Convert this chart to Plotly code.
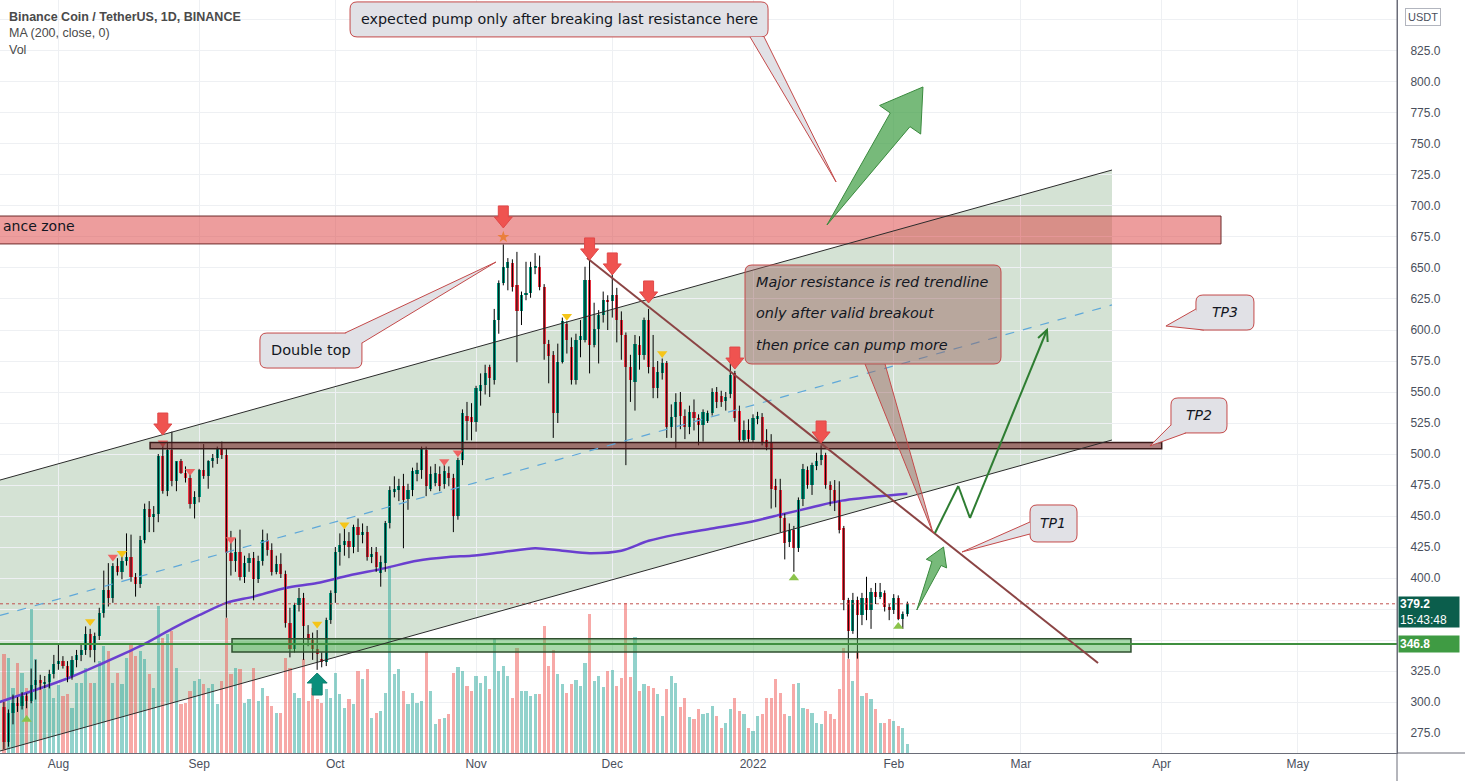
import math
import pandas as pd
import plotly.graph_objects as go

# ------------------------------------------------------------------ data
DATES = pd.date_range("2021-07-20", periods=200, freq="D")

OPEN = [296,268,291,299,297,305,301,314,318,315,
        316,323,331,333,329,320,334,338,342,355,
        342,353,372,390,384,410,405,414,417,401,
        395,431,456,449,452,498,470,503,478,494,
        485,481,460,465,487,482,494,497,505,499,
        420,414,421,401,412,416,399,414,431,423,
        405,411,403,364,343,378,384,355,350,343,
        335,332,366,388,421,427,430,425,441,435,
        437,417,421,404,412,444,469,471,474,464,
        471,484,487,503,472,477,484,476,485,481,
        450,495,531,530,526,551,556,570,560,608,
        638,650,654,636,615,628,630,650,651,635,
        589,580,533,574,605,586,560,592,592,640,
        588,601,612,624,623,628,608,596,570,558,
        588,580,608,570,553,565,573,522,530,542,
        531,522,534,529,523,527,533,550,547,543,
        548,565,535,511,519,511,528,530,511,509,
        474,471,448,429,439,424,464,487,475,490,
        495,499,475,471,462,440,382,357,382,370,
        384,374,389,385,388,377,374,384,367,371]

HIGH = [300,294,306,304,308,307,327,334,322,321,
        326,338,346,337,333,337,342,347,361,359,
        356,376,406,412,412,416,420,436,435,404,
        434,460,462,458,500,507,510,518,494,496,
        490,487,470,488,508,495,500,506,510,504,
        438,432,439,418,420,421,418,439,436,428,
        418,420,406,376,380,392,388,362,356,358,
        340,368,390,425,436,440,437,443,448,444,
        442,425,425,418,446,474,482,480,484,476,
        489,493,506,506,490,492,490,492,490,484,
        497,536,542,541,555,565,572,572,617,640,
        669,658,657,663,631,655,655,662,660,637,
        592,583,589,610,607,594,597,608,651,658,
        622,616,631,628,651,634,615,598,580,596,
        595,610,617,596,575,577,575,540,549,550,
        536,539,544,532,536,535,553,554,551,550,
        573,567,539,527,528,532,534,533,520,516,
        480,480,452,444,442,465,492,490,493,501,
        507,501,478,479,478,442,384,388,385,388,
        401,392,396,396,390,379,387,386,373,381]

LOW = [262,264,282,292,294,295,299,302,310,311,
       311,319,326,327,316,318,328,333,338,336,
       332,350,368,377,380,402,399,410,397,385,
       392,428,437,437,445,468,466,474,470,484,
       477,456,448,461,480,472,489,492,496,368,
       402,405,398,396,405,382,396,410,418,402,
       403,400,360,336,340,373,334,345,334,326,
       328,329,363,380,410,418,416,420,421,428,
       414,412,405,393,405,440,465,462,424,455,
       466,478,480,466,470,474,470,472,474,437,
       447,491,511,511,518,539,548,546,556,597,
       636,632,631,574,604,624,626,645,632,576,
       557,513,525,573,581,556,556,578,590,565,
       586,573,606,600,610,590,576,491,542,535,
       568,576,565,545,545,560,513,513,505,520,
       512,516,519,507,510,525,531,537,538,535,
       545,526,509,510,509,509,524,507,503,456,
       457,437,415,425,405,421,458,472,467,487,
       491,472,458,454,436,374,335,355,335,362,
       366,359,379,383,373,366,371,366,359,369]

CLOSE = [268,291,299,297,305,301,314,318,315,316,
         323,331,333,329,320,334,338,342,355,342,
         353,372,390,384,410,405,414,417,401,395,
         431,456,449,452,498,470,503,478,494,485,
         481,460,465,487,482,494,497,505,499,420,
         414,421,401,412,416,399,414,431,423,405,
         411,403,364,343,378,384,361,350,343,339,
         332,366,388,421,427,430,425,441,435,437,
         417,419,409,413,444,471,472,474,463,471,
         486,487,504,474,484,485,474,486,481,450,
         495,533,527,526,553,556,565,561,608,638,
         651,655,635,615,628,630,651,652,635,589,
         579,533,574,607,592,560,592,595,640,588,
         601,612,624,623,628,608,596,570,560,589,
         580,608,570,553,566,573,522,530,542,531,
         522,534,529,523,534,533,550,542,542,546,
         564,529,511,519,512,529,531,509,506,472,
         471,448,428,439,424,463,488,475,491,494,
         499,475,471,462,439,382,357,382,370,384,
         374,389,385,389,377,374,384,367,371,379.2]

# volume in thousands of BNB
VOLUME_K = [990,950,650,900,800,650,1440,940,720,640,
            750,550,680,570,590,450,700,700,850,700,
            700,920,1070,1020,700,800,690,950,1100,970,
            1020,940,790,650,1470,1150,1190,1220,850,490,
            500,620,720,740,690,650,690,490,720,1350,
            790,850,840,500,540,850,520,650,570,470,
            400,400,950,850,600,550,940,520,650,540,
            500,640,550,800,590,450,540,490,820,740,
            840,350,400,420,600,1870,790,840,620,490,
            600,500,520,1020,620,290,340,350,390,800,
            860,820,670,620,770,700,770,640,1150,820,
            870,770,550,1050,620,620,570,590,590,1270,
            870,1030,790,690,600,690,730,670,900,1390,
            720,770,660,820,830,670,750,1500,760,1160,
            620,690,670,650,590,370,640,770,700,460,
            550,360,340,440,390,400,470,370,250,300,
            440,550,420,390,250,220,370,390,550,550,
            740,600,390,370,690,700,450,440,400,300,
            290,420,390,340,640,1050,940,720,1020,570,
            600,540,440,300,300,340,320,270,250,90]

MA_DATES = ["2021-07-19", "2021-08-03", "2021-08-10", "2021-08-19", "2021-08-26",
            "2021-09-01", "2021-09-07", "2021-09-13", "2021-09-20", "2021-09-27",
            "2021-10-04", "2021-10-12", "2021-10-19", "2021-10-26", "2021-10-31",
            "2021-11-07", "2021-11-14", "2021-11-20", "2021-11-26", "2021-12-03",
            "2021-12-09", "2021-12-15", "2021-12-23", "2021-12-31", "2022-01-07",
            "2022-01-14", "2022-01-20", "2022-01-29", "2022-02-04"]
MA_VALUES = [300, 319, 330, 345, 359, 370, 380, 385, 392, 396,
             402, 408, 414, 417, 418, 421, 424, 422, 420, 422,
             430, 435, 440, 445, 451, 457, 462, 466, 468]

RED_TRI_DATES = ["2021-08-13", "2021-08-24", "2021-08-30", "2021-09-08", "2021-10-25", "2021-10-28"]
RED_TRI_PRICES = [417, 509, 486, 431, 494, 501]
YEL_TRI_DATES = ["2021-08-08", "2021-08-15", "2021-09-27", "2021-10-03", "2021-11-21", "2021-12-12"]
YEL_TRI_PRICES = [365, 420, 363, 443, 611, 581]
GRN_TRI_DATES = ["2021-07-25", "2022-01-10", "2022-02-02"]
GRN_TRI_PRICES = [286, 400, 361]
STAR_DATES = ["2021-11-07"]
STAR_PRICES = [675]

MONTH_TICKS = ["2021-08-01", "2021-09-01", "2021-10-01", "2021-11-01", "2021-12-01",
               "2022-01-01", "2022-02-01", "2022-03-01", "2022-04-01", "2022-05-01"]
MONTH_LABELS = ["Aug", "Sep", "Oct", "Nov", "Dec", "2022", "Feb", "Mar", "Apr", "May"]
PRICE_TICKS = [275 + 25 * k for k in range(24)]
HIDDEN_PRICE_LABELS = [350, 375, 850]   # covered by price badges in the reference

LAST_PRICE = 379.2
SUPPORT_PRICE = 346.8

# ------------------------------------------------------------------ layout constants
FIG_W, FIG_H = 1465, 781
M_L, M_R, M_T, M_B = 0, 68, 0, 28
PLOT_W = FIG_W - M_L - M_R
PLOT_H = FIG_H - M_T - M_B
X_START = pd.Timestamp("2021-07-19 03:20")
X_END = pd.Timestamp("2022-05-22 20:24")
Y_MIN, Y_MAX = 258.9, 866.1
VOL_AXIS_MAX = 7530

UP = "#089981"
DOWN = "#f23645"
VOL_UP = "rgba(38,166,154,0.5)"
VOL_DOWN = "rgba(239,83,80,0.5)"
GRID = "#eef0f3"
TXT = "#131722"
AXIS_TXT = "#4a4f5c"
CALLOUT_FILL = "#e1e1e6"
CALLOUT_LINE = "#c44a4a"


def to_px(date, price):
    t = pd.Timestamp(date)
    x = (t - X_START).total_seconds() / (X_END - X_START).total_seconds() * PLOT_W
    y = (Y_MAX - price) / (Y_MAX - Y_MIN) * PLOT_H
    return x, y


def dpath(t):
    return pd.Timestamp(t).strftime("%Y-%m-%d_%H:%M:%S")


def P(x, y):
    return f"{x:.1f},{-y:.1f}"


def rrect_path(x0, y0, x1, y1, r=7):
    return (f"M{P(x0 + r, y0)} L{P(x1 - r, y0)} Q{P(x1, y0)} {P(x1, y0 + r)} "
            f"L{P(x1, y1 - r)} Q{P(x1, y1)} {P(x1 - r, y1)} L{P(x0 + r, y1)} "
            f"Q{P(x0, y1)} {P(x0, y1 - r)} L{P(x0, y0 + r)} Q{P(x0, y0)} {P(x0 + r, y0)} Z")


def pix_shape(date, price, path, fill, line_color, line_width=1):
    return dict(type="path", xref="x", yref="y2", xsizemode="pixel", ysizemode="pixel",
                xanchor=str(date), yanchor=price, path=path, fillcolor=fill,
                line=dict(color=line_color, width=line_width), layer="above")


shapes = []
annotations = []

# ---- parallel channel (fill below series)
CH_T0, CH_T1 = "2021-07-19 03:20", "2022-03-21 01:40"
CH_UP = (479.0, 729.0)
CH_LO = (260.5, 511.3)
CH_MID = (369.8, 620.2)
shapes.append(dict(type="path", xref="x", yref="y2", layer="below",
                   path=f"M{dpath(CH_T0)},{CH_LO[0]} L{dpath(CH_T1)},{CH_LO[1]} "
                        f"L{dpath(CH_T1)},{CH_UP[1]} L{dpath(CH_T0)},{CH_UP[0]} Z",
                   fillcolor="rgba(100,150,100,0.28)", line=dict(width=0)))

# ---- red resistance zone
shapes.append(dict(type="rect", xref="x", yref="y2", x0="2021-07-01", x1="2022-04-14 02:00",
                   y0=669.4, y1=691.9, fillcolor="rgba(220,60,60,0.5)",
                   line=dict(color="#6d2b2b", width=1), layer="above"))
# ---- brown horizontal resistance box
shapes.append(dict(type="rect", xref="x", yref="y2", x0="2021-08-21 04:50", x1="2022-04-01 00:30",
                   y0=504.3, y1=509.3, fillcolor="rgba(120,40,40,0.6)",
                   line=dict(color="#3a1a1a", width=1.5), layer="above"))
# ---- green support box
shapes.append(dict(type="rect", xref="x", yref="y2", x0="2021-09-08 05:45", x1="2022-03-25 06:00",
                   y0=340.3, y1=351.0, fillcolor="rgba(76,175,80,0.48)",
                   line=dict(color="#2f4f2f", width=1.5), layer="above"))
# ---- horizontal support line
shapes.append(dict(type="line", xref="paper", yref="y2", x0=0, x1=1, y0=SUPPORT_PRICE, y1=SUPPORT_PRICE,
                   line=dict(color="#3f8f3f", width=2), layer="above"))
# ---- last price dotted line
shapes.append(dict(type="line", xref="paper", yref="y2", x0=0, x1=1, y0=LAST_PRICE, y1=LAST_PRICE,
                   line=dict(color="#c0504d", width=1, dash="dot"), layer="above"))
# ---- channel borders
shapes.append(dict(type="line", xref="x", yref="y2", x0=CH_T0, x1=CH_T1, y0=CH_UP[0], y1=CH_UP[1],
                   line=dict(color="#2b2b2b", width=1), layer="above"))
shapes.append(dict(type="line", xref="x", yref="y2", x0=CH_T0, x1=CH_T1, y0=CH_LO[0], y1=CH_LO[1],
                   line=dict(color="#2b2b2b", width=1), layer="above"))
shapes.append(dict(type="line", xref="x", yref="y2", x0=CH_T0, x1=CH_T1, y0=CH_MID[0], y1=CH_MID[1],
                   line=dict(color="#5fa8d9", width=1.2, dash="dash"), layer="above"))
# ---- descending trendline
shapes.append(dict(type="line", xref="x", yref="y2", x0="2021-11-25 10:30", x1="2022-03-18 00:00",
                   y0=658.1, y1=331.5, line=dict(color="#8b4444", width=2), layer="above"))

# ---- red down arrow marks (tip anchored)
RED_ARROW_MARKS = [("2021-08-24", 515.3), ("2021-11-07", 682.3), ("2021-11-26", 656.5),
                   ("2021-12-01", 644.4), ("2021-12-09", 621.8), ("2021-12-28", 568.5),
                   ("2022-01-16", 508.9)]
down_arrow = (f"M{P(-5, -22)} L{P(5, -22)} L{P(5, -11)} L{P(9, -11)} L{P(0, 0)} "
              f"L{P(-9, -11)} L{P(-5, -11)} Z")
for d, p in RED_ARROW_MARKS:
    shapes.append(pix_shape(d, p, down_arrow, "#ef5350", "#e04848", 1))

# ---- teal up arrow mark
up_arrow = (f"M{P(0, 0)} L{P(10, 10)} L{P(5, 10)} L{P(5, 22)} L{P(-5, 22)} "
            f"L{P(-5, 10)} L{P(-10, 10)} Z")
shapes.append(pix_shape("2021-09-27", 323.4, up_arrow, "#0a8f7c", "#0a7f6e", 1))


# ---- big / small green arrows
def arrow_path(dx, dy, head_len, head_half, shaft_half):
    L = math.hypot(dx, dy)
    ux, uy = dx / L, dy / L
    nx, ny = -uy, ux
    bx, by = ux * (L - head_len), uy * (L - head_len)
    pts = [(0, 0), (bx + nx * shaft_half, by + ny * shaft_half), (bx + nx * head_half, by + ny * head_half),
           (dx, dy), (bx - nx * head_half, by - ny * head_half), (bx - nx * shaft_half, by - ny * shaft_half)]
    return "M" + " L".join(P(x, y) for x, y in pts) + " Z"


GREEN_ARROWS = [(("2022-01-17 07:00", 684.7), ("2022-02-07 10:30", 796.0), 40, 25, 12),
                (("2022-02-06 02:00", 374.2), ("2022-02-11 23:00", 425.0), 18, 11, 5)]
for (t0, p0), (t1, p1), hl, hh, sh in GREEN_ARROWS:
    x0, y0 = to_px(t0, p0)
    x1, y1 = to_px(t1, p1)
    shapes.append(pix_shape(t0, p0, arrow_path(x1 - x0, y1 - y0, hl, hh, sh),
                            "rgba(67,160,71,0.72)", "#3a8a3e", 1))

# ---- green projected path
PATH_PTS = [("2022-02-10 02:00", 436.3), ("2022-02-15 05:00", 474.2),
            ("2022-02-17 19:00", 448.4), ("2022-03-06 18:00", 600.0)]
for (ta, pa), (tb, pb) in zip(PATH_PTS[:-1], PATH_PTS[1:]):
    shapes.append(dict(type="line", xref="x", yref="y2", x0=ta, x1=tb, y0=pa, y1=pb,
                       line=dict(color="#2e7d32", width=2), layer="above"))
xa, ya = to_px(*PATH_PTS[-2])
xb, yb = to_px(*PATH_PTS[-1])
L = math.hypot(xb - xa, yb - ya)
ux, uy = (xa - xb) / L, (ya - yb) / L
hx = []
for ang in (0.45, -0.45):
    c, s = math.cos(ang), math.sin(ang)
    hx.append((12 * (ux * c - uy * s), 12 * (ux * s + uy * c)))
shapes.append(pix_shape(PATH_PTS[-1][0], PATH_PTS[-1][1],
                        f"M{P(*hx[0])} L{P(0, 0)} L{P(*hx[1])}", "rgba(0,0,0,0)", "#2e7d32", 2))


# ---- callouts
def callout(tip, box, tail, fill, texts):
    d, p = tip
    x0, y0, x1, y1 = box
    shapes.append(pix_shape(d, p, rrect_path(x0, y0, x1, y1), fill, CALLOUT_LINE, 1))
    (ax, ay), (bx, by) = tail
    shapes.append(pix_shape(d, p, f"M{P(ax, ay)} L{P(0, 0)} L{P(bx, by)} Z", fill, "rgba(0,0,0,0)", 0))
    shapes.append(pix_shape(d, p, f"M{P(ax, ay)} L{P(0, 0)} L{P(bx, by)}", "rgba(0,0,0,0)", CALLOUT_LINE, 1))
    for text, tx, ty, anchor, size, italic in texts:
        annotations.append(dict(x=d, y=p, xref="x", yref="y2", text=text, showarrow=False,
                                xshift=tx, yshift=-ty, xanchor=anchor, yanchor="middle",
                                font=dict(family="DejaVu Sans", size=size, color=TXT,
                                          style="italic" if italic else "normal")))


callout(("2022-01-19 07:00", 719.4), (-486, -180, -68, -145), [(-86, -145), (-72, -145)], CALLOUT_FILL,
        [("expected pump only after breaking last resistance here", -277, -163, "center", 14.3, False)])
callout(("2021-11-05 09:00", 654.8), (-236, 71, -134, 106), [(-151, 71), (-134, 81)], CALLOUT_FILL,
        [("Double top", -185, 88, "center", 14.5, False)])
callout(("2022-02-09 15:30", 436.3), (-188, -268, 68, -169), [(-68, -169), (-48, -169)],
        "rgba(150,95,90,0.45)",
        [("Major resistance is red trendline", -179, -251, "left", 14.4, True),
         ("only after valid breakout", -179, -220, "left", 14.4, True),
         ("then price can pump more", -179, -188, "left", 14.4, True)])
callout(("2022-02-16 01:00", 421.0), (68, -47, 115, -10), [(68, -30), (68, -18)], CALLOUT_FILL,
        [("TP1", 91, -29, "center", 14, True)])
callout(("2022-03-29 10:30", 506.5), (21, -48, 77, -13), [(21, -21), (36, -13)], CALLOUT_FILL,
        [("TP2", 49, -31, "center", 14, True)])
callout(("2022-04-01 23:00", 603.2), (30, -31, 88, 4), [(30, -17), (38, 4)], CALLOUT_FILL,
        [("TP3", 59, -14, "center", 14, True)])

# ---- text labels
annotations.append(dict(x=0, y=680.6, xref="paper", yref="y2", text="ance zone", showarrow=False,
                        xanchor="left", yanchor="middle", xshift=1, yshift=4,
                        font=dict(family="DejaVu Sans", size=14, color=TXT)))
legend_lines = [("<b>Binance Coin / TetherUS, 1D, BINANCE</b>", 17), ("MA (200, close, 0)", 33), ("Vol", 50)]
for text, ypix in legend_lines:
    annotations.append(dict(x=0, y=1 - ypix / PLOT_H, xref="paper", yref="paper", text=text,
                            showarrow=False, xanchor="left", yanchor="middle", xshift=7,
                            font=dict(family="Liberation Sans", size=12.5, color="#4a4a4a")))

# ---- price axis labels
annotations.append(dict(x=1, y=LAST_PRICE, xref="paper", yref="y2", xanchor="left", yanchor="top",
                        yshift=8, xshift=1, showarrow=False, align="left",
                        text="<b>379.2</b><br>15:43:48", width=58, height=28,
                        bgcolor="#0b5e4c", borderpad=1,
                        font=dict(family="Liberation Sans", size=12, color="white")))
annotations.append(dict(x=1, y=SUPPORT_PRICE, xref="paper", yref="y2", xanchor="left", yanchor="middle",
                        xshift=1, showarrow=False, align="left", text="<b>346.8</b>", width=58, height=14,
                        bgcolor="#3f9b43", borderpad=1,
                        font=dict(family="Liberation Sans", size=12, color="white")))
annotations.append(dict(x=1, y=1 - 17.5 / PLOT_H, xref="paper", yref="paper", xanchor="left",
                        yanchor="middle", xshift=8, showarrow=False, text="USDT",
                        bgcolor="white", bordercolor="#b2b5be", borderwidth=1, borderpad=2,
                        font=dict(family="Liberation Sans", size=11, color=AXIS_TXT)))

# ---- axis frame extensions
shapes.append(dict(type="line", xref="paper", yref="paper", x0=1, x1=FIG_W / PLOT_W, y0=0, y1=0,
                   line=dict(color="#6a6d78", width=1), layer="above"))
shapes.append(dict(type="line", xref="paper", yref="paper", x0=1, x1=1, y0=-M_B / PLOT_H, y1=1,
                   line=dict(color="#6a6d78", width=1), layer="above"))

# ------------------------------------------------------------------ traces
fig = go.Figure()

vol_colors = [VOL_UP if c >= o else VOL_DOWN for o, c in zip(OPEN, CLOSE)]
fig.add_trace(go.Bar(x=DATES, y=VOLUME_K, marker=dict(color=vol_colors, line=dict(width=0)),
                     width=0.7 * 86400000, yaxis="y", hoverinfo="skip", name="Vol"))

fig.add_trace(go.Scatter(x=MA_DATES, y=MA_VALUES, mode="lines", yaxis="y2",
                         line=dict(color="#6a3fcf", width=2.5, shape="spline", smoothing=0.8),
                         hoverinfo="skip", name="MA"))

wick_x, wick_y = [], []
for d, h, l in zip(DATES, HIGH, LOW):
    wick_x += [d, d, None]
    wick_y += [l, h, None]
fig.add_trace(go.Scatter(x=wick_x, y=wick_y, mode="lines", yaxis="y2",
                         line=dict(color="#000000", width=1), hoverinfo="skip", name="wick"))

body_base = [min(o, c) for o, c in zip(OPEN, CLOSE)]
body_h = [max(abs(c - o), 0.9) for o, c in zip(OPEN, CLOSE)]
body_col = [UP if c >= o else DOWN for o, c in zip(OPEN, CLOSE)]
fig.add_trace(go.Bar(x=DATES, y=body_h, base=body_base, yaxis="y2", width=0.7 * 86400000,
                     marker=dict(color=body_col, line=dict(width=0)), hoverinfo="skip", name="BNBUSDT"))

fig.add_trace(go.Scatter(x=RED_TRI_DATES, y=RED_TRI_PRICES, mode="markers", yaxis="y2",
                         marker=dict(symbol="triangle-down", size=9, color="#ef6464"), hoverinfo="skip"))
fig.add_trace(go.Scatter(x=YEL_TRI_DATES, y=YEL_TRI_PRICES, mode="markers", yaxis="y2",
                         marker=dict(symbol="triangle-down", size=9, color="#f5c518"), hoverinfo="skip"))
fig.add_trace(go.Scatter(x=GRN_TRI_DATES, y=GRN_TRI_PRICES, mode="markers", yaxis="y2",
                         marker=dict(symbol="triangle-up", size=9, color="#8bc34a"), hoverinfo="skip"))
fig.add_trace(go.Scatter(x=STAR_DATES, y=STAR_PRICES, mode="markers", yaxis="y2",
                         marker=dict(symbol="star", size=9, color="#f9c23c"), hoverinfo="skip"))

fig.update_layout(
    width=FIG_W, height=FIG_H,
    margin=dict(l=M_L, r=M_R, t=M_T, b=M_B, pad=0),
    paper_bgcolor="white", plot_bgcolor="white",
    showlegend=False, barmode="overlay", bargap=0,
    xaxis=dict(type="date", range=[X_START, X_END], tickvals=MONTH_TICKS, ticktext=MONTH_LABELS,
               showgrid=True, gridcolor=GRID, gridwidth=1, zeroline=False,
               showline=True, linecolor="#6a6d78", linewidth=1, ticks="",
               tickfont=dict(family="Liberation Sans", size=12, color=AXIS_TXT),
               fixedrange=True),
    yaxis=dict(range=[0, VOL_AXIS_MAX], visible=False, showgrid=False, fixedrange=True),
    yaxis2=dict(range=[Y_MIN, Y_MAX], overlaying="y", side="right", tickvals=PRICE_TICKS,
                ticktext=["" if v in HIDDEN_PRICE_LABELS else f"{v:.1f}" for v in PRICE_TICKS],
                showgrid=True, gridcolor=GRID,
                zeroline=False, showline=True, linecolor="#6a6d78", linewidth=1, ticks="",
                ticklabelstandoff=10,
                tickfont=dict(family="Liberation Sans", size=12, color=AXIS_TXT), fixedrange=True),
    shapes=shapes,
    annotations=annotations,
)

fig.write_html("out.html")
